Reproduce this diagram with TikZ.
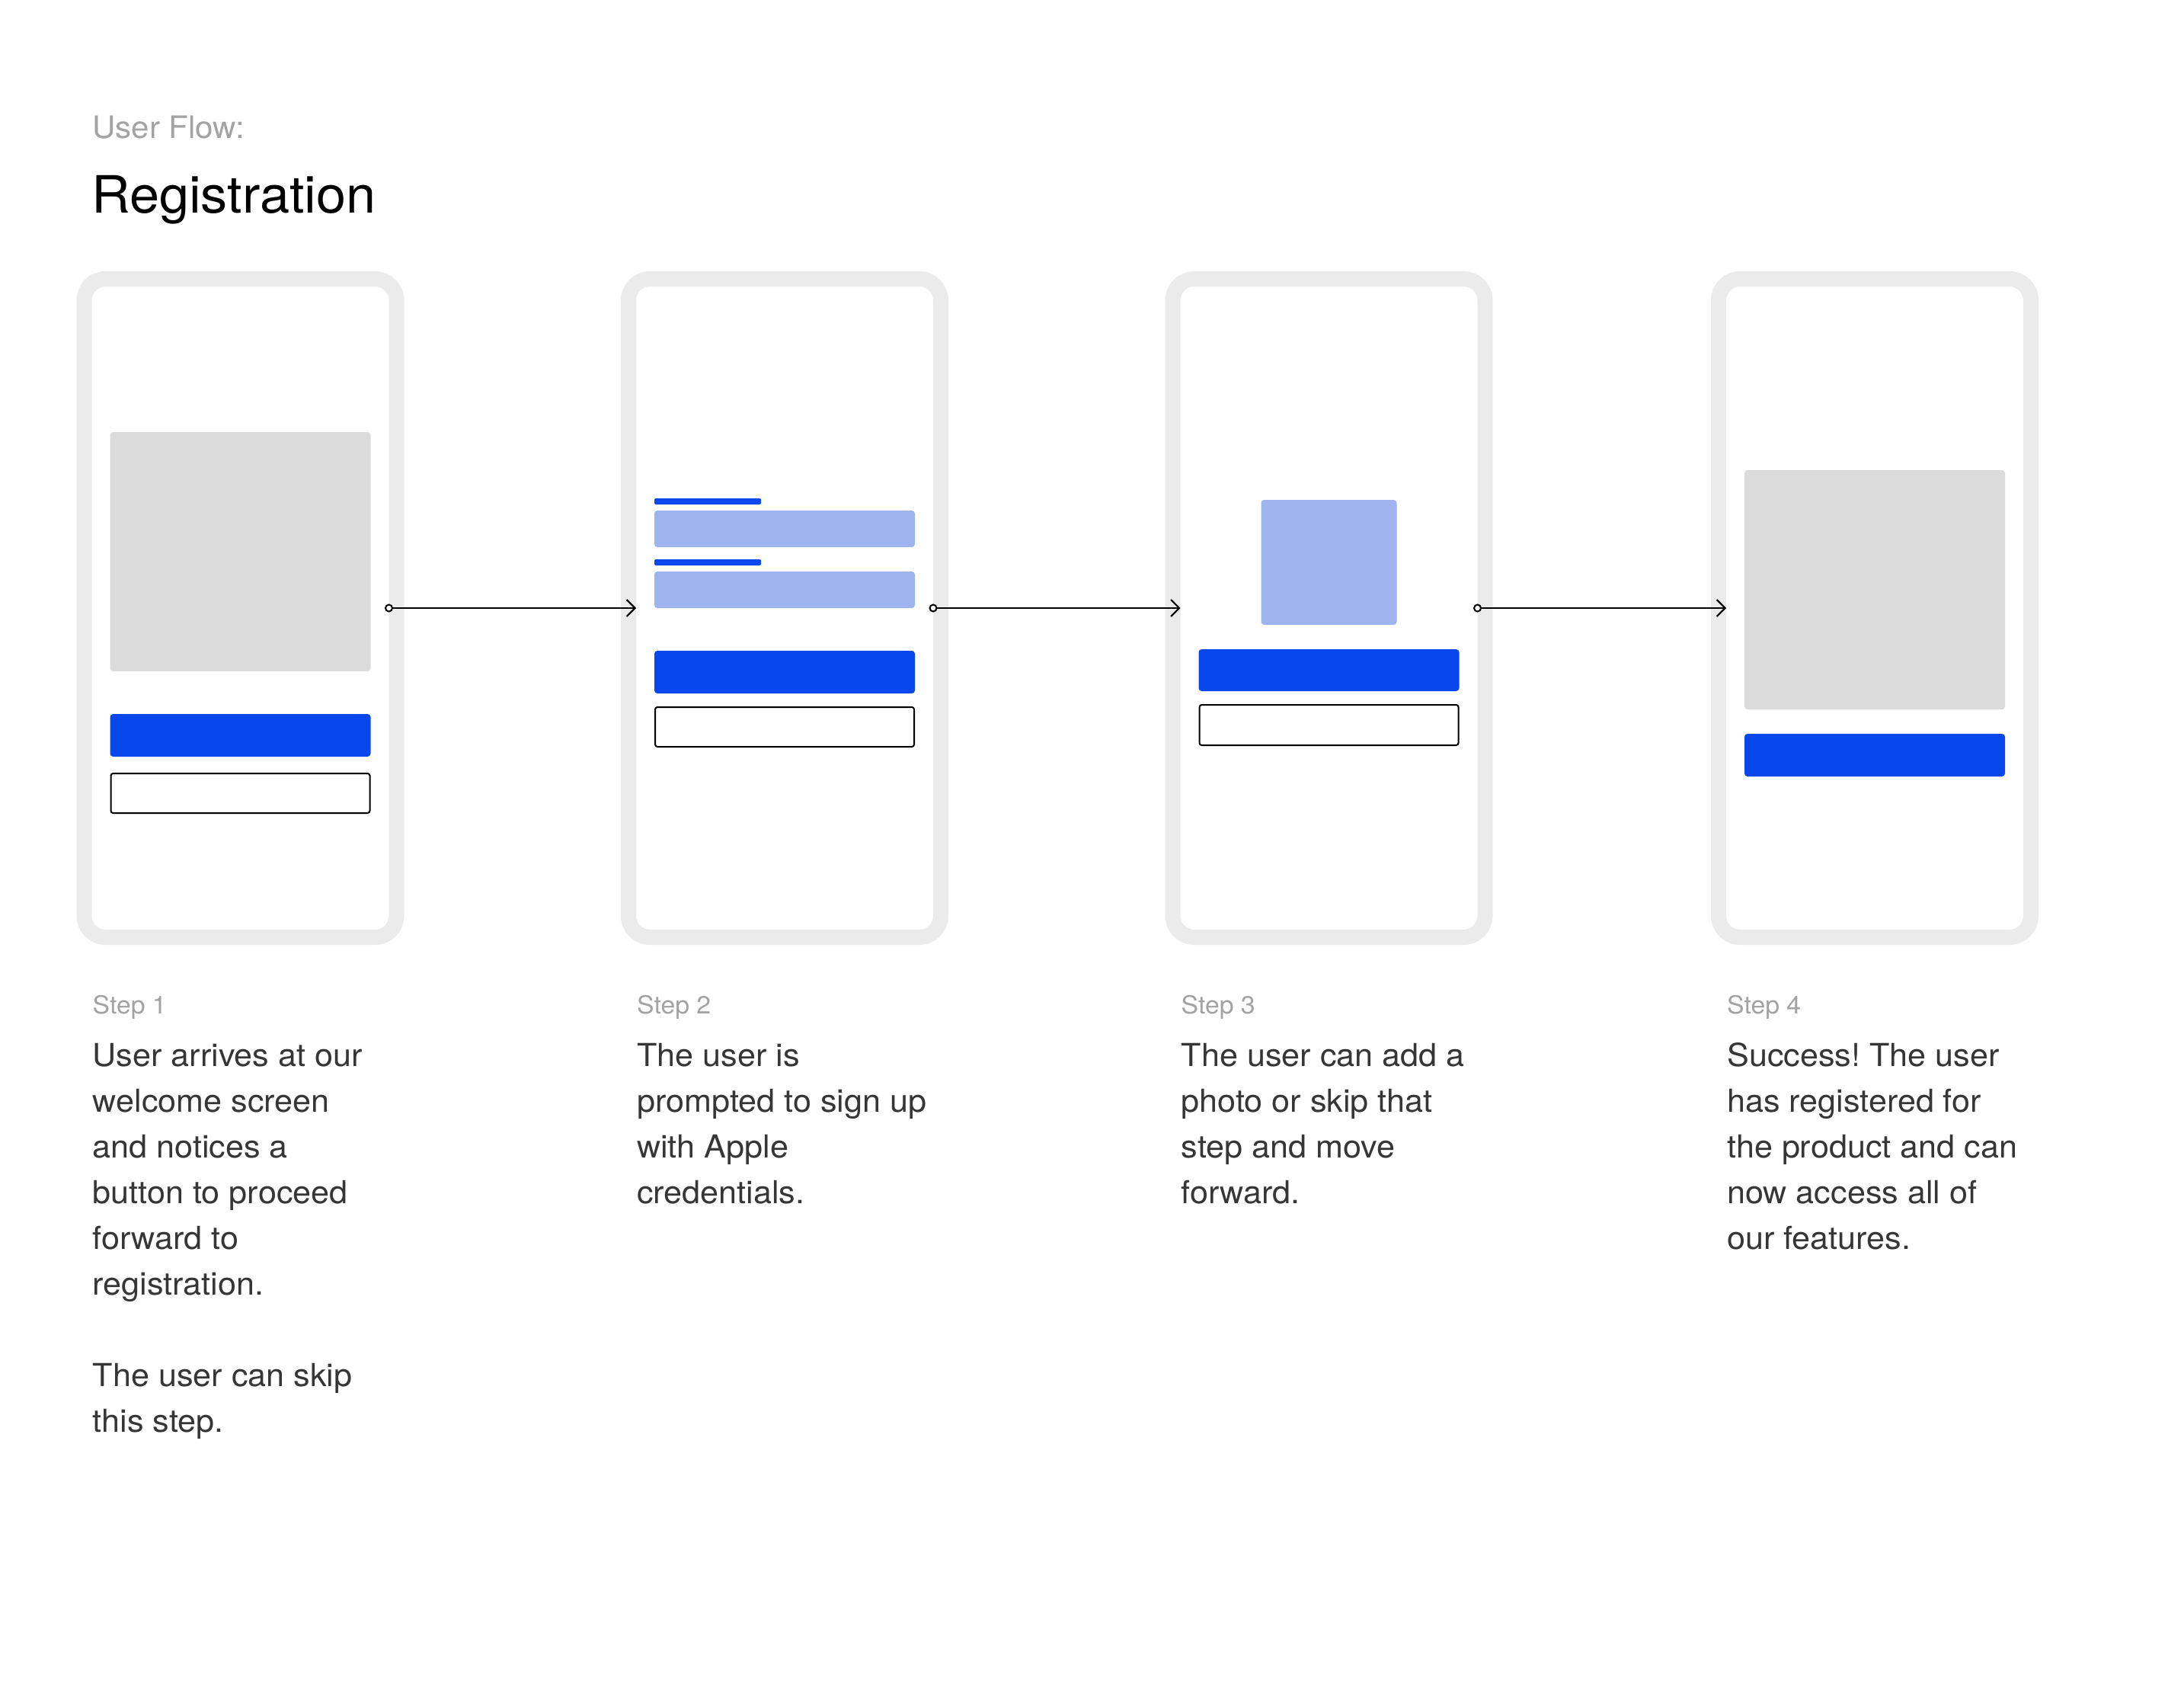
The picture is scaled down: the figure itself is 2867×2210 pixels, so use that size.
\documentclass[tikz,border=0pt]{standalone}
\usepackage{fontspec}
\setmainfont[FakeStretch=1.04]{TeX Gyre Heros}
\usetikzlibrary{arrows.meta}
\frenchspacing
\definecolor{phonegray}{HTML}{EBEBEB}
\definecolor{placegray}{HTML}{DBDBDB}
\definecolor{uiblue}{HTML}{0847EB}
\definecolor{uilight}{HTML}{9FB4EE}
\definecolor{bodytext}{HTML}{363636}
\definecolor{labelgray}{HTML}{A3A3A3}
\tikzset{
  phone/.style={draw=phonegray, line width=20pt, fill=white, rounded corners=28pt,
    minimum width=410pt, minimum height=864pt, inner sep=0pt, outer sep=0pt},
  placeholder/.style={fill=placegray, rounded corners=4pt},
  btn/.style={fill=uiblue, rounded corners=4pt},
  tag/.style={fill=uiblue, rounded corners=2pt},
  field/.style={fill=uilight, rounded corners=4pt},
  outl/.style={draw=black, line width=2pt, fill=white, rounded corners=3pt},
  startdot/.style={circle, draw=black, fill=white, line width=2pt, minimum size=9pt, inner sep=0pt, outer sep=0pt},
  flow/.style={draw=black, line width=2pt, -{Straight Barb[length=11pt,width=22pt]}},
  steplabel/.style={anchor=base west, inner sep=0pt, text=labelgray, font=\fontsize{32.5}{38}\selectfont},
  bodyline/.style={anchor=base west, inner sep=0pt, text=bodytext, font=\fontsize{41.5}{60}\selectfont},
}
\begin{document}
\begin{tikzpicture}[x=1pt,y=-1pt]
\useasboundingbox (0,0) rectangle (2867,2210);
\fill[white] (0,0) rectangle (2867,2210);

% titles
\node[anchor=base west, inner sep=0pt, text=labelgray, font=\fontsize{40.5}{48}\selectfont] (uflow) at (121,182) {User Flow:};
\node[anchor=base west, inner sep=0pt, text=black, font=\fontsize{67.5}{80}\selectfont] (title) at (120,279) {Registration};

% phones
\node[phone] (p1) at (315.5,798) {};
\node[phone] (p2) at (1030,798) {};
\node[phone] (p3) at (1744.5,798) {};
\node[phone] (p4) at (2461,798) {};

% phone 1 content
\begin{scope}[xshift=100.5pt]
\fill[placeholder] (44,567) rectangle (386,881);
\fill[btn] (44,937) rectangle (386,993);
\draw[outl] (45,1015) rectangle (385,1067);
\end{scope}

% phone 2 content
\begin{scope}[xshift=815pt]
\fill[tag] (44,654) rectangle (184,662);
\fill[field] (44,670) rectangle (386,718);
\fill[tag] (44,734) rectangle (184,742);
\fill[field] (44,750) rectangle (386,798);
\fill[btn] (44,854) rectangle (386,910);
\draw[outl] (45,928) rectangle (385,980);
\end{scope}

% phone 3 content
\begin{scope}[xshift=1529.5pt]
\fill[field] (126,656) rectangle (304,820);
\fill[btn] (44,852) rectangle (386,907);
\draw[outl] (45,925) rectangle (385,978);
\end{scope}

% phone 4 content
\begin{scope}[xshift=2246pt]
\fill[placeholder] (44,617) rectangle (386,931);
\fill[btn] (44,963) rectangle (386,1019);
\end{scope}

% connectors
\node[startdot] (d1) at ([xshift=-10pt]p1.east) {};
\node[startdot] (d2) at ([xshift=-10pt]p2.east) {};
\node[startdot] (d3) at ([xshift=-10pt]p3.east) {};
\draw[flow] (d1.east) -- ([xshift=10pt]p2.west);
\draw[flow] (d2.east) -- ([xshift=10pt]p3.west);
\draw[flow] (d3.east) -- ([xshift=10pt]p4.west);

% step texts
\node[steplabel] (s1) at (121.5,1330) {Step 1};
\node[steplabel] (s2) at (836,1330) {Step 2};
\node[steplabel] (s3) at (1550.5,1330) {Step 3};
\node[steplabel] (s4) at (2267,1330) {Step 4};

\foreach \t [count=\i] in {User arrives at our, welcome screen, and notices a, button to proceed, forward to, registration.}
  \node[bodyline] (a\i) at (121.5,{1399+60*(\i-1)}) {\t};
\foreach \t [count=\i] in {The user can skip, this step.}
  \node[bodyline] (aa\i) at (121.5,{1819+60*(\i-1)}) {\t};
\foreach \t [count=\i] in {The user is, prompted to sign up, with Apple, credentials.}
  \node[bodyline] (b\i) at (836,{1399+60*(\i-1)}) {\t};
\foreach \t [count=\i] in {The user can add a, photo or skip that, step and move, forward.}
  \node[bodyline] (c\i) at (1550.5,{1399+60*(\i-1)}) {\t};
\foreach \t [count=\i] in {Success! The user, has registered for, the product and can, now access all of, our features.}
  \node[bodyline] (e\i) at (2267,{1399+60*(\i-1)}) {\t};
\end{tikzpicture}
\end{document}
